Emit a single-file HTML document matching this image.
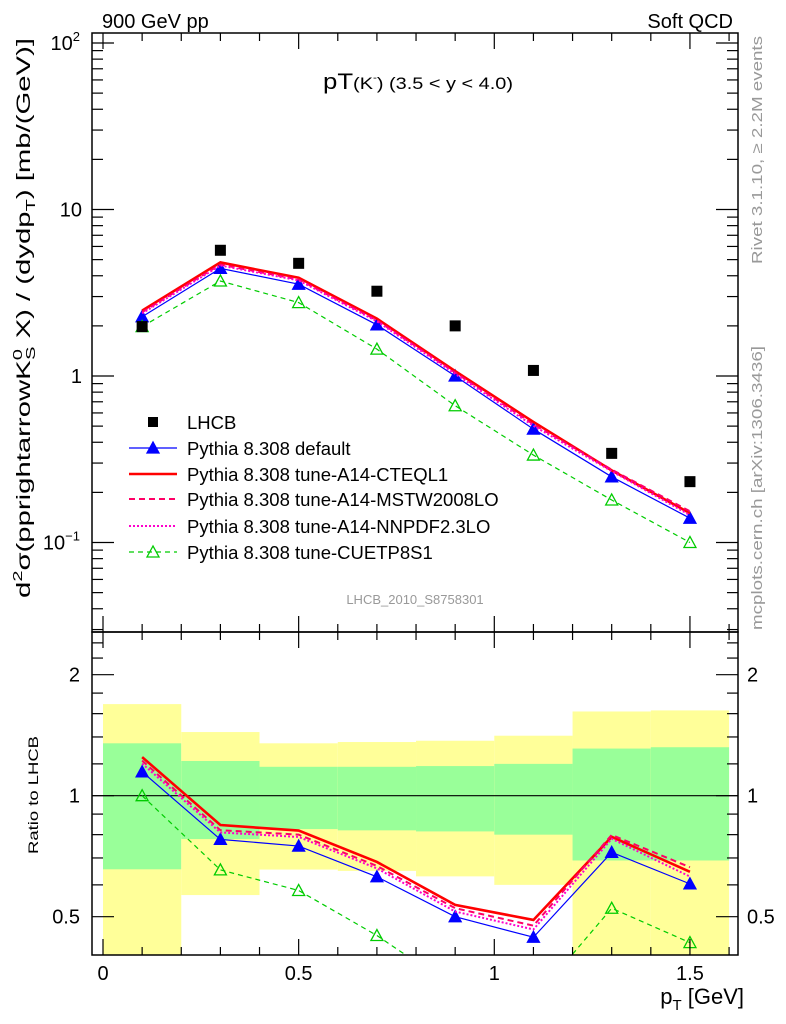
<!DOCTYPE html>
<html><head><meta charset="utf-8"><style>
body{margin:0;background:#fff;}
svg{display:block;font-family:"Liberation Sans",sans-serif;}
</style></head><body>
<svg id="c" width="786" height="1024" viewBox="0 0 786 1024" xmlns="http://www.w3.org/2000/svg">
<defs>
<clipPath id="cm"><rect x="92" y="33" width="646" height="599"/></clipPath>
<clipPath id="cr"><rect x="92" y="632" width="646" height="323"/></clipPath>
</defs>
<g id="bands" clip-path="url(#cr)"></g>
<g id="ratio" clip-path="url(#cr)"></g>
<g id="main" clip-path="url(#cm)"></g>
<g id="axes"></g>
<text x="102" y="28" font-size="20">900 GeV pp</text>
<text x="733" y="28" font-size="20" text-anchor="end">Soft QCD</text>
<text x="323" y="89" font-size="22" textLength="190" lengthAdjust="spacingAndGlyphs">pT<tspan font-size="17">(K</tspan><tspan font-size="10" dy="-8">-</tspan><tspan font-size="17" dy="8">) (3.5 &lt; y &lt; 4.0)</tspan></text>
<text x="415" y="604" font-size="13" fill="#999" text-anchor="middle">LHCB_2010_S8758301</text>
<text transform="translate(762,150) rotate(-90)" font-size="15" fill="#999" text-anchor="middle" textLength="228" lengthAdjust="spacingAndGlyphs">Rivet 3.1.10, ≥ 2.2M events</text>
<text transform="translate(762,488) rotate(-90)" font-size="15" fill="#999" text-anchor="middle" textLength="284" lengthAdjust="spacingAndGlyphs">mcplots.cern.ch [arXiv:1306.3436]</text>
<text transform="translate(30,318) rotate(-90)" font-size="19" text-anchor="middle" textLength="560" lengthAdjust="spacingAndGlyphs">d<tspan font-size="13" dy="-8">2</tspan><tspan dy="8">σ(pprightarrowK</tspan><tspan font-size="13" dy="-8">0</tspan><tspan font-size="13" dy="13" dx="-7">S</tspan><tspan dy="-5"> X) / (dydp</tspan><tspan font-size="13" dy="5">T</tspan><tspan dy="-5">) [mb/(GeV)]</tspan></text>
<text transform="translate(38,795) rotate(-90)" font-size="14" text-anchor="middle" textLength="118" lengthAdjust="spacingAndGlyphs">Ratio to LHCB</text>
<text x="744" y="1004" font-size="22" text-anchor="end">p<tspan font-size="15" dy="6">T</tspan><tspan dy="-6"> [GeV]</tspan></text>
<g id="legend"></g>
</svg>
<script>
const xCenters=[0.1,0.3,0.5,0.7,0.9,1.1,1.3,1.5];
const binEdges=[0,0.2,0.4,0.6,0.8,1.0,1.2,1.4,1.6];
const lhcb=[1.98,5.69,4.75,3.23,2.0,1.08,0.343,0.232];
const pyDefault=[2.27,4.43,3.56,2.03,1.0,0.48,0.248,0.14];
const pyCTEQ=[2.47,4.81,3.89,2.21,1.07,0.53,0.271,0.150];
const pyMSTW=[2.42,4.67,3.80,2.16,1.05,0.513,0.274,0.154];
const pyNNPDF=[2.38,4.61,3.75,2.13,1.03,0.502,0.268,0.146];
const pyCUETP=[1.98,3.72,2.76,1.45,0.663,0.335,0.18,0.1];
const yellowHi=[1.69,1.44,1.35,1.36,1.37,1.41,1.62,1.63];
const yellowLo=[0.3,0.566,0.655,0.65,0.63,0.6,0.3,0.3];
const greenHi=[1.35,1.22,1.18,1.18,1.185,1.2,1.31,1.32];
const greenLo=[0.656,0.78,0.826,0.82,0.815,0.8,0.69,0.69];
const xTickLabels=["0","0.5","1","1.5"];
const xTickVals=[0,0.5,1,1.5];

const NS="http://www.w3.org/2000/svg";
const xs=v=>103+v*391.3;
const ym=v=>376-166.5*Math.log10(v);
const yr=v=>795.7-121*Math.log2(v);
function mk(tag,attrs,parent){const e=document.createElementNS(NS,tag);for(const k in attrs)e.setAttribute(k,attrs[k]);parent.appendChild(e);return e;}
const G=id=>document.getElementById(id);

binEdges.slice(0,-1).forEach((e,i)=>{
  const x0=xs(e),x1=xs(binEdges[i+1]);
  let r=mk('rect',{x:x0,y:yr(yellowHi[i]),width:x1-x0,height:yr(yellowLo[i])-yr(yellowHi[i]),fill:'#ffff99'},G('bands'));
  
  
  r=mk('rect',{x:x0,y:yr(greenHi[i]),width:x1-x0,height:yr(greenLo[i])-yr(greenHi[i]),fill:'#99ff99'},G('bands'));
  
  
});
let ln=mk('line',{x1:92,x2:738,y1:yr(1),y2:yr(1),stroke:'#000','stroke-width':1.2},G('bands'));



const series=[
 {name:'default',vals:pyDefault,color:'#0000ff',w:1.2,dash:'',marker:'tri-filled'},
 {name:'cteql1',vals:pyCTEQ,color:'#ff0000',w:2.6,dash:'',marker:''},
 {name:'mstw2008lo',vals:pyMSTW,color:'#ff0066',w:2,dash:'6,4',marker:''},
 {name:'nnpdf23lo',vals:pyNNPDF,color:'#ff00cc',w:2,dash:'2,2',marker:''},
 {name:'cuetp8s1',vals:pyCUETP,color:'#00cc00',w:1.2,dash:'5,4',marker:'tri-open'}
];
function tri(g,x,y,s,filled){
  const p=mk('polygon',{points:`${x},${y-6} ${x-6},${y+5} ${x+6},${y+5}`,fill:filled?s.color:'none',stroke:s.color,'stroke-width':1.3},g);
  
  
}
series.forEach(s=>{
  const pm=xCenters.map((x,i)=>xs(x)+','+ym(s.vals[i])).join(' ');
  let pl=mk('polyline',{points:pm,fill:'none',stroke:s.color,'stroke-width':s.w,'stroke-dasharray':s.dash},G('main'));
  
  
  const pr=xCenters.map((x,i)=>xs(x)+','+yr(s.vals[i]/lhcb[i])).join(' ');
  pl=mk('polyline',{points:pr,fill:'none',stroke:s.color,'stroke-width':s.w,'stroke-dasharray':s.dash},G('ratio'));
  
  
  if(s.marker){
    xCenters.forEach((x,i)=>{
      tri(G('main'),xs(x),ym(s.vals[i]),s,s.marker==='tri-filled');
      tri(G('ratio'),xs(x),yr(s.vals[i]/lhcb[i]),s,s.marker==='tri-filled');
    });
  }
});
xCenters.forEach((x,i)=>{
  const r=mk('rect',{x:xs(x)-5.5,y:ym(lhcb[i])-5.5,width:11,height:11,fill:'#000'},G('main'));
  
  
});

const A=G('axes');
[[33,632],[632,955]].forEach(([t,b],pi)=>{
  const f=mk('rect',{x:92,y:t,width:646,height:b-t,fill:'none',stroke:'#000','stroke-width':1.5},A);
  
  
  for(let k=0;k<=16;k++){const v=k/10,x=xs(v),L=(k%5===0)?16:8;
    mk('line',{x1:x,x2:x,y1:b,y2:b-L,stroke:'#000','stroke-width':1.2},A);
    mk('line',{x1:x,x2:x,y1:t,y2:t+L,stroke:'#000','stroke-width':1.2},A);}
});
xTickVals.forEach((v,i)=>{
  const t=mk('text',{x:xs(v),y:980,'font-size':20,'text-anchor':'middle'},A);t.textContent=xTickLabels[i];
  
  
});
for(let d=-2;d<=2;d++){for(let m=1;m<10;m++){const v=m*Math.pow(10,d),y=ym(v);if(y<33||y>632)continue;const L=m===1?22:11;
  mk('line',{x1:92,x2:92+L,y1:y,y2:y,stroke:'#000','stroke-width':1.2},A);
  mk('line',{x1:738,x2:738-L,y1:y,y2:y,stroke:'#000','stroke-width':1.2},A);}}
[["10","2",100],["10","",10],["1","",1],["10","−1",0.1]].forEach(([b,e,v])=>{
  const t=mk('text',{x:82,y:ym(v)+7,'font-size':20,'text-anchor':'end'},A);
  
  
  t.textContent=b;
  if(e){const s=mk('tspan',{'font-size':13,dy:-9},t);s.textContent=e;
    t.setAttribute('x',80);}
});
[0.5,0.6,0.7,0.8,0.9,1,1.2,1.4,1.6,1.8,2,2.2,2.4].forEach(v=>{const y=yr(v);const L=(v===0.5||v===1||v===2)?22:11;
  mk('line',{x1:92,x2:92+L,y1:y,y2:y,stroke:'#000','stroke-width':1.2},A);
  mk('line',{x1:738,x2:738-L,y1:y,y2:y,stroke:'#000','stroke-width':1.2},A);});
[["2",2],["1",1],["0.5",0.5]].forEach(([l,v])=>{
  let t=mk('text',{x:80,y:yr(v)+7,'font-size':20,'text-anchor':'end'},A);t.textContent=l;
  
  
  t=mk('text',{x:747,y:yr(v)+7,'font-size':20},A);t.textContent=l;
  
  
});

const Lg=G('legend');
const legRows=[422,448,474,499,526,552];
const legLabels=["LHCB","Pythia 8.308 default","Pythia 8.308 tune-A14-CTEQL1","Pythia 8.308 tune-A14-MSTW2008LO","Pythia 8.308 tune-A14-NNPDF2.3LO","Pythia 8.308 tune-CUETP8S1"];
legRows.forEach((y,i)=>{
  const g=mk('g',{},Lg);
  
  
  if(i===0){mk('rect',{x:148,y:y-5,width:10,height:10,fill:'#000'},g);}
  else{const s=series[i-1];
    mk('line',{x1:129,x2:177,y1:y,y2:y,stroke:s.color,'stroke-width':s.w,'stroke-dasharray':s.dash},g);
    if(s.marker)tri(g,153,y,s,s.marker==='tri-filled');}
  const t=mk('text',{x:187,y:y+7,'font-size':18.5},g);t.textContent=legLabels[i];
});
</script>
</body></html>
